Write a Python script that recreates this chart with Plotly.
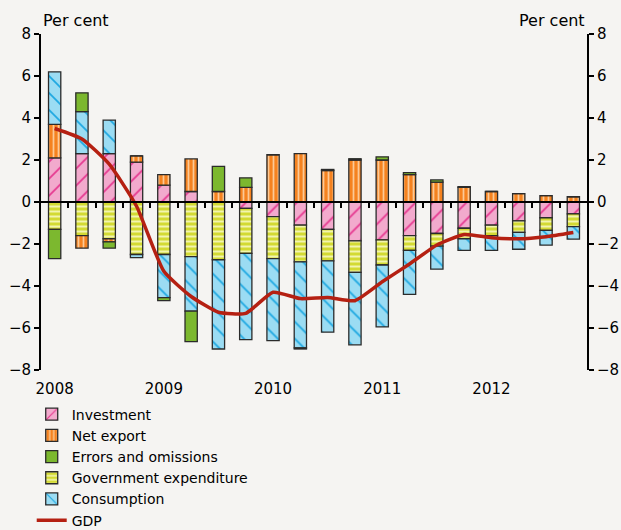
"""Contributions to GDP growth, stacked quarterly bars with GDP line."""

import plotly.graph_objects as go

quarters = [f"{y}Q{q}" for y in range(2008, 2013) for q in range(1, 5)]
year_labels = ["2008", "2009", "2010", "2011", "2012"]

investment = [2.1, 2.3, 2.3, 1.9, 0.8, 0.5, 0.0, -0.3, -0.7, -1.1,
              -1.3, -1.85, -1.8, -1.6, -1.5, -1.25, -1.1, -0.9, -0.75, -0.57]
net_export = [1.6, -0.6, -0.15, 0.3, 0.5, 1.55, 0.5, 0.7, 2.25, 2.3,
              1.5, 2.0, 2.0, 1.3, 0.95, 0.7, 0.5, 0.4, 0.3, 0.25]
errors = [-1.4, 0.9, -0.3, 0.0, -0.15, -1.45, 1.2, 0.45, 0.0, -0.05,
          0.05, 0.06, 0.15, 0.1, 0.1, 0.03, 0.0, 0.0, 0.0, 0.0]
government = [-1.3, -1.6, -1.75, -2.5, -2.5, -2.6, -2.75, -2.15, -2.0, -1.75,
              -1.5, -1.5, -1.2, -0.7, -0.6, -0.5, -0.5, -0.55, -0.6, -0.6]
consumption = [2.5, 2.0, 1.6, -0.15, -2.05, -2.6, -4.25, -4.1, -3.9, -4.1,
               -3.4, -3.45, -2.95, -2.1, -1.1, -0.55, -0.7, -0.8, -0.7, -0.6]
gdp = [3.5, 3.0, 1.8, -0.2, -3.3, -4.5, -5.25, -5.3, -4.3, -4.6,
       -4.55, -4.7, -3.8, -2.95, -2.05, -1.55, -1.7, -1.75, -1.65, -1.45]

idx = list(range(len(quarters)))
year_pos = [quarters.index(y + "Q1") for y in year_labels]

FONT = "DejaVu Sans"
BG = "#f5f4f2"
OUTLINE = dict(color="#2b2b2b", width=1.3)

# stacking order (bottom to top) differs from legend order
series = [
    ("Investment", investment, "#f2aacd", "#e6378f", "/", 12, 0.14, 1),
    ("Government expenditure", government, "#d3da33", "#f2f4ae", "-", 5, 0.4, 4),
    ("Net export", net_export, "#f5821f", "#fcc995", "|", 5, 0.35, 2),
    ("Consumption", consumption, "#9bdcf3", "#1ca7e1", "\\", 12, 0.14, 5),
    ("Errors and omissions", errors, "#7cb82f", None, "", 8, 0.3, 3),
]

fig = go.Figure()

for name, vals, fill, fg, shape, size, solid, rank in series:
    pattern = dict(shape=shape)
    if shape:
        pattern = dict(shape=shape, fillmode="overlay", fgcolor=fg,
                       fgopacity=1, size=size, solidity=solid)
    fig.add_trace(go.Bar(
        x=idx, y=vals, name=name, legendrank=rank,
        marker=dict(color=fill, line=OUTLINE, pattern=pattern),
    ))

fig.add_trace(go.Scatter(
    x=idx, y=gdp, name="GDP", legendrank=6, mode="lines",
    line=dict(color="#b52012", width=3.5, shape="spline", smoothing=0.5),
    xaxis="x2", yaxis="y2",
))

yax = dict(range=[-8, 8], dtick=2, ticks="outside", ticklen=5, tickwidth=2,
           tickcolor="black", showline=True, linewidth=2, linecolor="black",
           showgrid=False, zeroline=False,
           tickfont=dict(family=FONT, size=15, color="black"))

fig.update_layout(
    width=621, height=530,
    margin=dict(l=41, r=34, t=34, b=160, autoexpand=False),
    paper_bgcolor=BG, plot_bgcolor=BG,
    barmode="relative", bargap=0.55,
    showlegend=True,
    font=dict(family=FONT, size=15, color="black"),
    xaxis=dict(range=[-0.5, 19.5], tickvals=year_pos, ticktext=year_labels,
               ticks="", showline=False, showgrid=False, zeroline=False,
               ticklabelstandoff=8,
               tickfont=dict(family=FONT, size=15, color="black")),
    xaxis2=dict(range=[-0.5, 19.5], overlaying="x", anchor="free",
                position=0.5, side="bottom", showline=True, linewidth=2,
                linecolor="black", ticks="outside", ticklen=5, tickwidth=2,
                tickcolor="black", tickvals=[i + 0.5 for i in idx[:-1]],
                showticklabels=False, showgrid=False, zeroline=False),
    yaxis=yax,
    yaxis2=dict(yax, overlaying="y", side="right", anchor="x"),
    legend=dict(x=-0.017, y=-0.085, xanchor="left", yanchor="top",
                traceorder="normal", tracegroupgap=0, bgcolor="rgba(0,0,0,0)",
                font=dict(family=FONT, size=14, color="black")),
    annotations=[
        dict(text="Per cent", xref="paper", yref="paper", x=0, y=1.04,
             xanchor="left", yanchor="middle", showarrow=False,
             font=dict(family=FONT, size=16, color="black")),
        dict(text="Per cent", xref="paper", yref="paper", x=1, y=1.04,
             xanchor="right", yanchor="middle", showarrow=False,
             font=dict(family=FONT, size=16, color="black")),
    ],
)

fig.write_html(
    "out.html",
    config={"displayModeBar": False},
    post_script=f"document.body.style.margin='0';"
                f"document.body.style.background='{BG}';",
)
